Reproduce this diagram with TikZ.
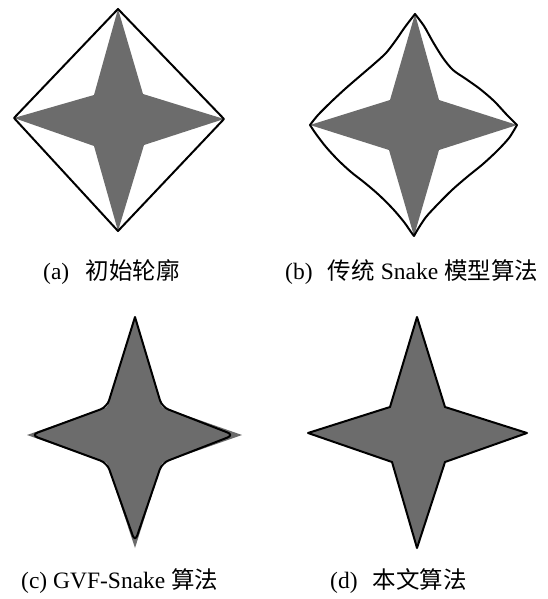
\documentclass[tikz,border=0pt]{standalone}
\usepackage{fontspec}
\setmainfont{Liberation Serif}
\newfontfamily\cjk{Noto Sans CJK SC}
\usepackage{tikz}
\definecolor{cStar}{RGB}{108,108,108}
\tikzset{
  starbody/.style={fill=cStar, draw=none},
  starline/.style={fill=cStar, draw=black, line width=2pt, line join=round},
  edge/.style={draw=black, line width=2pt, line join=round},
  captext/.style={anchor=base west, inner sep=0pt, font=\fontsize{23.5}{28}\selectfont},
}

\begin{document}
\begin{tikzpicture}[x=1pt, y=-1pt]
  \useasboundingbox (0,0) rectangle (547,599);

  \fill[starbody] (118,9) -- (143,94) -- (224,119) -- (144,145) -- (118,231)
    -- (94,146) -- (14,118) -- (94,95) -- cycle;
  \draw[edge] (118,9) -- (224,119) -- (118,231) -- (14,118) -- cycle;

  \fill[starbody] (415,14) -- (439,100) -- (517,125) -- (439,150) -- (414,236)
    -- (389,150) -- (310,125) -- (390,100) -- cycle;
  \draw[edge]
    plot[smooth, tension=0.5] coordinates {(415,14) (405,27) (396,40) (386,53) (374,64)
      (360,76) (345,89) (331,102) (318,115) (310,125)}
    -- plot[smooth, tension=0.5] coordinates {(310,125) (316,134) (326,147) (338,160)
      (351,172) (365,183) (379,195) (393,209) (404,222) (411,232) (414,236)}
    -- plot[smooth, tension=0.5] coordinates {(414,236) (418,229) (426,217) (438,204)
      (452,190) (467,177) (483,164) (497,151) (509,138) (517,125)}
    -- plot[smooth, tension=0.5] coordinates {(517,125) (507,115) (494,101) (480,89)
      (466,79) (453,70) (443,58) (433,42) (424,26) (415,14)}
    -- cycle;

  \fill[starbody] (135,317) -- (162,407) -- (242,435) -- (162,463) -- (135,548)
    -- (107,463) -- (27,435) -- (107,407) -- cycle;
  \draw[edge] (121,362) -- (135,317) [rounded corners=7pt] -- (162,407) -- (234,435)
    -- (162,463) -- (135,542) -- (107,463) -- (31,435) -- (107,407) -- cycle;

  \draw[starline] (417,317) -- (445,407) -- (527,433) -- (445,462) -- (417,548)
    -- (392,462) -- (308,433) -- (390,407) -- cycle;

  \node[captext] (capa) at (43,279) {(a)\hspace{0.7em}{\cjk 初始轮廓}};
  \node[captext] (capb) at (285,279) {(b)\hspace{0.65em}{\cjk 传统} Snake {\cjk 模型算法}};
  \node[captext] (capc) at (21,588) {(c) GVF-Snake {\cjk 算法}};
  \node[captext] (capd) at (330,588) {(d)\hspace{0.65em}{\cjk 本文算法}};
\end{tikzpicture}
\end{document}
